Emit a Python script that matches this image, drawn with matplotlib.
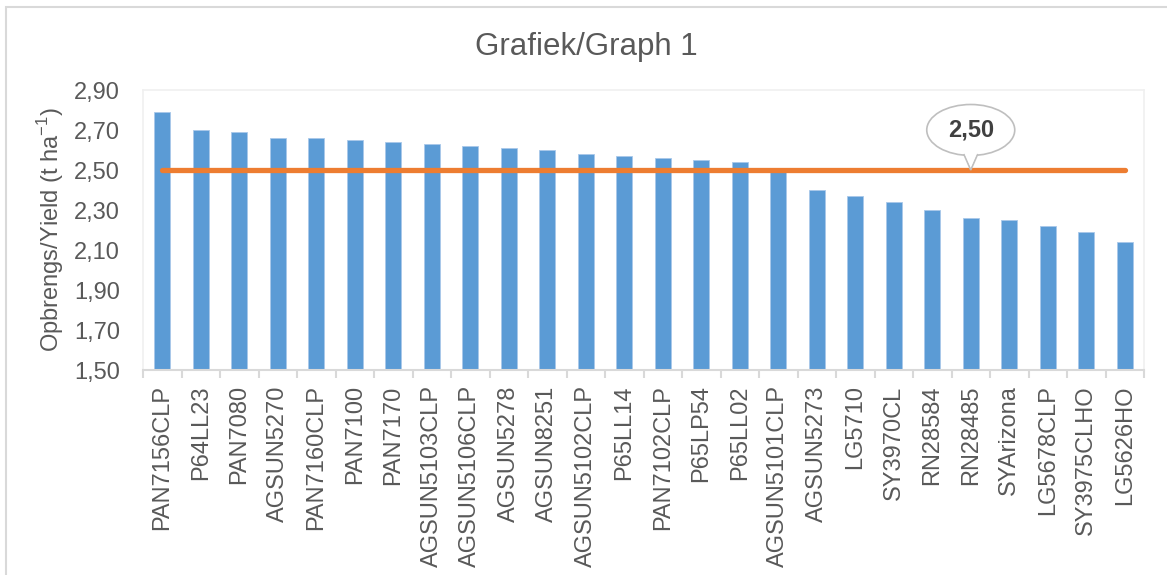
import numpy as np
import matplotlib
matplotlib.use("Agg")
import matplotlib.pyplot as plt
from matplotlib.patches import Ellipse, Polygon, Rectangle
from matplotlib.transforms import ScaledTranslation

#---------------------------------
# DATA
#---------------------------------

cultivars = ["PAN7156CLP", "P64LL23", "PAN7080", "AGSUN5270", "PAN7160CLP",
             "PAN7100", "PAN7170", "AGSUN5103CLP", "AGSUN5106CLP", "AGSUN5278",
             "AGSUN8251", "AGSUN5102CLP", "P65LL14", "PAN7102CLP", "P65LP54",
             "P65LL02", "AGSUN5101CLP", "AGSUN5273", "LG5710", "SY3970CL",
             "RN28584", "RN28485", "SYArizona", "LG5678CLP", "SY3975CLHO",
             "LG5626HO"]

yields = [2.79, 2.70, 2.69, 2.66, 2.66,
          2.65, 2.64, 2.63, 2.62, 2.61,
          2.60, 2.58, 2.57, 2.56, 2.55,
          2.54, 2.50, 2.40, 2.37, 2.34,
          2.30, 2.26, 2.25, 2.22, 2.19,
          2.14]

mean_yield = 2.50
label_idx = 21  # point carrying the callout

yticks = [1.50, 1.70, 1.90, 2.10, 2.30, 2.50, 2.70, 2.90]

#---------------------------------
# PLOT
#---------------------------------

plt.rcParams["font.family"] = ["Liberation Sans", "DejaVu Sans"]
txt_col = "#595959"
grid_col = "#d9d9d9"

W, H = 1167, 575
fig = plt.figure(figsize=(W / 100, H / 100), dpi=100)
ax = fig.add_axes([143 / W, 1 - 370 / H, (1144 - 143) / W, (370 - 90) / H])

# outer chart border
fig.patches.append(Rectangle((6 / W, -0.1), 1.2, 1 + 0.1 - 7 / H,
                             transform=fig.transFigure, fill=False,
                             edgecolor=grid_col, lw=1.5))

x = np.arange(len(cultivars))
ax.bar(x, yields, width=0.41, color="#5b9bd5", edgecolor="#a9c8ea",
       linewidth=0.6, zorder=2)
ax.plot(x, [mean_yield] * len(x), color="#ed7d31", lw=3.8,
        solid_capstyle="round", zorder=3)

ax.set_xlim(-0.5, len(x) - 0.5)
ax.set_ylim(yticks[0], yticks[-1])
ax.set_yticks(yticks)
ax.set_yticklabels([f"{v:.2f}".replace(".", ",") for v in yticks])
ax.set_xticks(x)
ax.set_xticklabels(cultivars, rotation=90)
ax.set_xticks(np.arange(len(x) + 1) - 0.5, minor=True)

ax.tick_params(axis="y", length=0, labelsize=17, labelcolor=txt_col, pad=16.5)
ax.tick_params(axis="x", which="major", length=0, labelsize=17,
               labelcolor=txt_col, pad=11)
ax.tick_params(axis="x", which="minor", length=6, color=grid_col, width=1.5)

for s in ["top", "right", "left"]:
    ax.spines[s].set_color("#f0f0f0")
    ax.spines[s].set_linewidth(1.2)
ax.spines["bottom"].set_color(grid_col)
ax.spines["bottom"].set_linewidth(1.5)

ax.set_ylabel("Opbrengs/Yield (t ha$^{\\mathregular{-1}}$)", fontsize=17,
              color=txt_col, labelpad=6)
fig.text(586 / W, 1 - 47 / H, "Grafiek/Graph 1", fontsize=22.5, color=txt_col,
         ha="center", va="center")

# callout bubble on the mean line
trans = fig.dpi_scale_trans + ScaledTranslation(label_idx, mean_yield, ax.transData)
tri = Polygon([(-0.07, 0.16), (0.0, 0.0), (0.07, 0.16)], closed=False,
              transform=trans, facecolor="white", edgecolor="#bfbfbf",
              lw=1.2, zorder=5)
bubble = Ellipse((0.0, 0.40), 0.88, 0.51, transform=trans,
                 facecolor="white", edgecolor="#bfbfbf", lw=1.2, zorder=4)
ax.add_patch(bubble)
ax.add_patch(tri)
ax.add_patch(Polygon([(-0.062, 0.17), (0.0, 0.03), (0.062, 0.17)],
                     transform=trans, facecolor="white", edgecolor="none",
                     zorder=6))
ax.text(0.0, 0.40, f"{mean_yield:.2f}".replace(".", ","), transform=trans,
        ha="center", va="center", fontsize=17, fontweight="bold",
        color="#404040", zorder=7)

fig.savefig("out.png", dpi=100)
